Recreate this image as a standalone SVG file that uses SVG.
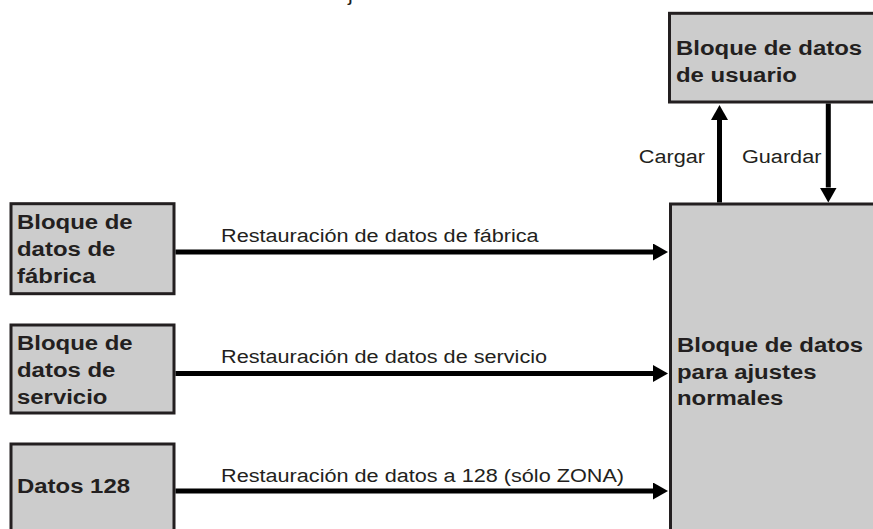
<svg xmlns="http://www.w3.org/2000/svg" width="873" height="529" viewBox="0 0 873 529">
<style>
.box{fill:#cccccc;stroke:#231f20;stroke-width:3}
.b{font-family:"Liberation Sans",Arial,sans-serif;font-weight:bold;font-size:21px;fill:#231f20}
.r{font-family:"Liberation Sans",Arial,sans-serif;font-size:19px;fill:#231f20}
.c{stroke:#000;stroke-width:5;fill:none}
</style>
<defs>
<marker id="ah" markerUnits="userSpaceOnUse" viewBox="0 0 15 17" refX="0" refY="8.5" markerWidth="15" markerHeight="17" orient="auto">
<path d="M0,0 L15,8.5 L0,17 z" fill="#000"/>
</marker>
</defs>
<rect width="873" height="529" fill="#fff"/>
<text class="r" transform="translate(348,0.5) scale(1.14,1)">j</text>
<g id="n-usuario">
<rect class="box" x="669.5" y="13.3" width="300" height="88.7"/>
<text class="b" transform="translate(676,55) scale(1.14,1)">Bloque de datos</text>
<text class="b" transform="translate(676,82) scale(1.14,1)">de usuario</text>
</g>
<g id="n-normales">
<rect class="box" x="670.5" y="204" width="300" height="400"/>
<text class="b" transform="translate(677,352) scale(1.14,1)">Bloque de datos</text>
<text class="b" transform="translate(677,378.5) scale(1.14,1)">para ajustes</text>
<text class="b" transform="translate(677,405) scale(1.14,1)">normales</text>
</g>
<g id="n-fabrica">
<rect class="box" x="11" y="203.7" width="163" height="90"/>
<text class="b" transform="translate(17,229) scale(1.14,1)">Bloque de</text>
<text class="b" transform="translate(17,256) scale(1.14,1)">datos de</text>
<text class="b" transform="translate(17,283) scale(1.14,1)">fábrica</text>
</g>
<g id="n-servicio">
<rect class="box" x="11" y="325" width="163" height="88"/>
<text class="b" transform="translate(17,350) scale(1.14,1)">Bloque de</text>
<text class="b" transform="translate(17,377) scale(1.14,1)">datos de</text>
<text class="b" transform="translate(17,404) scale(1.14,1)">servicio</text>
</g>
<g id="n-datos128">
<rect class="box" x="11" y="444" width="163" height="200"/>
<text class="b" transform="translate(17,493) scale(1.14,1)">Datos 128</text>
</g>
<g id="connectors">
<line class="c" x1="175.5" y1="252" x2="653" y2="252" marker-end="url(#ah)"/>
<line class="c" x1="175.5" y1="373.5" x2="653" y2="373.5" marker-end="url(#ah)"/>
<line class="c" x1="175.5" y1="491" x2="653" y2="491" marker-end="url(#ah)"/>
<line class="c" x1="719.5" y1="202.5" x2="719.5" y2="120" marker-end="url(#ah)"/>
<line class="c" x1="828.3" y1="103.5" x2="828.3" y2="187.5" marker-end="url(#ah)"/>
<text class="r" transform="translate(221,242) scale(1.14,1)">Restauración de datos de fábrica</text>
<text class="r" transform="translate(221,362.5) scale(1.14,1)">Restauración de datos de servicio</text>
<text class="r" transform="translate(221,482) scale(1.14,1)">Restauración de datos a 128 (sólo ZONA)</text>
<text class="r" text-anchor="end" transform="translate(705,163) scale(1.14,1)">Cargar</text>
<text class="r" transform="translate(742,163) scale(1.14,1)">Guardar</text>
</g>
</svg>
